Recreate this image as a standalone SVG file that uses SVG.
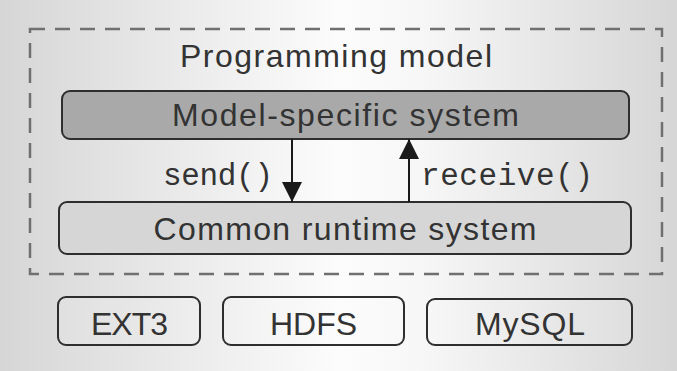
<svg xmlns="http://www.w3.org/2000/svg" width="677" height="371" viewBox="0 0 677 371">
<defs>
<linearGradient id="bg" x1="0" y1="0" x2="1" y2="0">
<stop offset="0" stop-color="#d6d6d6"/>
<stop offset="0.5" stop-color="#fcfcfc"/>
<stop offset="0.62" stop-color="#f7f7f7"/>
<stop offset="1" stop-color="#d6d6d6"/>
</linearGradient>
<marker id="ah" viewBox="0 0 20 20" refX="20" refY="10" markerWidth="20" markerHeight="20" markerUnits="userSpaceOnUse" orient="auto">
<path d="M0,0 L20,10 L0,20 Z" fill="#1a1a1a"/>
</marker>
<style>
.box{stroke:#2e2e2e;stroke-width:2}
.t{font-family:"Liberation Sans",Arial,sans-serif;font-size:32px;fill:#333333;text-anchor:middle}
.m{font-family:"Liberation Mono","Courier New",monospace;font-size:31px;fill:#333333}
.c{stroke:#1a1a1a;stroke-width:2;fill:none}
</style>
</defs>
<rect x="0" y="0" width="677" height="371" fill="url(#bg)"/>
<g id="programming-model">
<rect x="30" y="29" width="632" height="245" fill="none" stroke="#707070" stroke-width="2.5" stroke-dasharray="15 10"/>
<text class="t" x="336" y="67" textLength="312">Programming model</text>
</g>
<g id="model-specific">
<rect class="box" x="62" y="91" width="567" height="48" rx="8" fill="#a9a9a9"/>
<text class="t" x="345.5" y="126" textLength="347">Model-specific system</text>
</g>
<g id="common-runtime">
<rect class="box" x="59" y="202" width="572" height="52" rx="8" fill="#d6d6d6"/>
<text class="t" x="345" y="240" textLength="383">Common runtime system</text>
</g>
<g id="ext3">
<rect class="box" x="58" y="297" width="142" height="48" rx="8" fill="#ffffff" fill-opacity="0.1"/>
<text class="t" x="129.5" y="335" textLength="77">EXT3</text>
</g>
<g id="hdfs">
<rect class="box" x="223" y="297" width="181" height="48" rx="8" fill="#ffffff" fill-opacity="0.1"/>
<text class="t" x="313.5" y="335" textLength="87">HDFS</text>
</g>
<g id="mysql">
<rect class="box" x="427" y="299" width="205" height="46" rx="8" fill="#ffffff" fill-opacity="0.1"/>
<text class="t" x="530" y="335" textLength="110">MySQL</text>
</g>
<g id="connectors">
<line class="c" x1="292" y1="139" x2="292" y2="202" marker-end="url(#ah)"/>
<line class="c" x1="409" y1="202" x2="409" y2="139" marker-end="url(#ah)"/>
<text class="m" x="163" y="185" textLength="110">send()</text>
<text class="m" x="421" y="185" textLength="172">receive()</text>
</g>
</svg>
